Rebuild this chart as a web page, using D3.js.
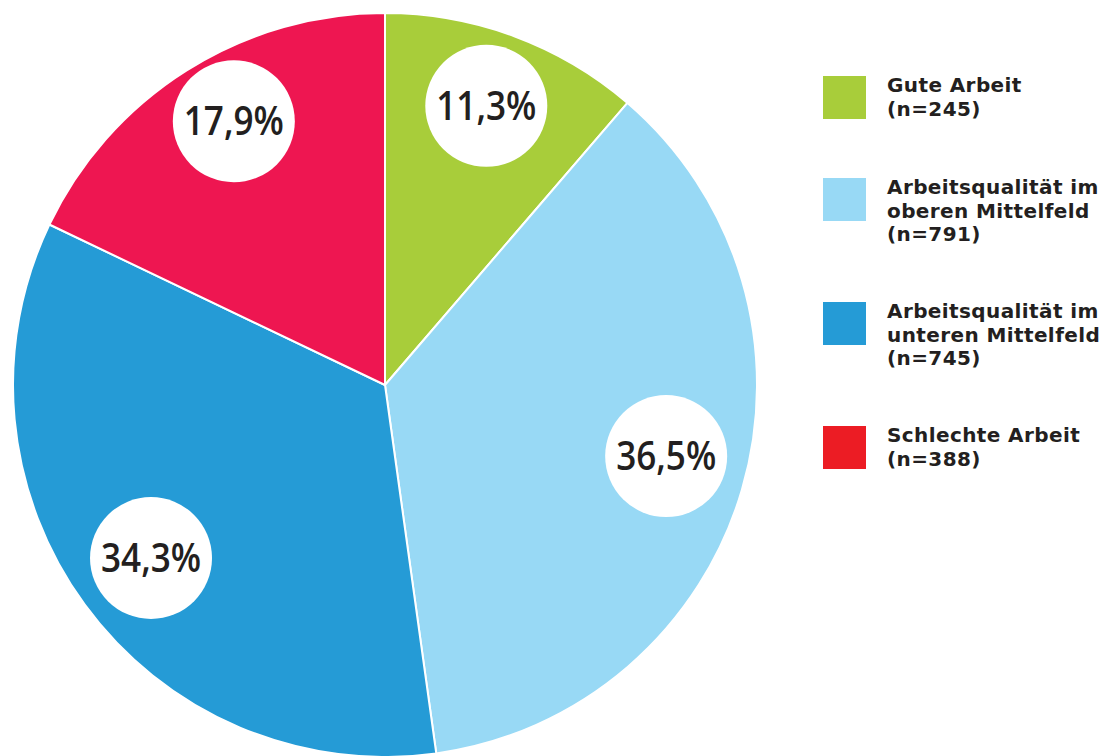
<!DOCTYPE html>
<html>
<head>
<meta charset="utf-8">
<script src="https://cdn.jsdelivr.net/npm/d3@7"></script>
<style>
  body { margin: 0; background: #fff; }
  svg { display: block; }
</style>
</head>
<body>
<div id="chart"></div>
<script>
// data
const categories = ["Gute Arbeit", "Arbeitsqualität im oberen Mittelfeld", "Arbeitsqualität im unteren Mittelfeld", "Schlechte Arbeit"];
const shares = [11.3, 36.5, 34.3, 17.9];
const counts = [245, 791, 745, 388];
const legendLines = [
  ["Gute Arbeit", "(n=245)"],
  ["Arbeitsqualität im", "oberen Mittelfeld", "(n=791)"],
  ["Arbeitsqualität im", "unteren Mittelfeld", "(n=745)"],
  ["Schlechte Arbeit", "(n=388)"]
];
const sliceColors = ["#a8cd3a", "#98d9f5", "#259bd6", "#ee1651"];
const legendColors = ["#a8cd3a", "#98d9f5", "#259bd6", "#ec1c24"];

const width = 1110, height = 756;
const cx = 385, cy = 385, radius = 372;
// bubble placement: distance from centre, and small angle nudge (degrees)
const bubbleRadius = [297, 290, 291, 304];
const bubbleNudge = [-0.4, -2.2, -0.3, 2.4];

const svg = d3.select("#chart").append("svg")
  .attr("width", width)
  .attr("height", height);

const pieData = d3.pie().sort(null).value(d => d)(shares);

const arc = d3.arc().innerRadius(0).outerRadius(radius);

const g = svg.append("g").attr("transform", `translate(${cx},${cy})`);

// slices
g.selectAll(".slice")
  .data(pieData)
  .enter()
  .append("path")
  .attr("class", "slice")
  .attr("d", arc)
  .attr("fill", (d, i) => sliceColors[i])
  .attr("stroke", "#fff")
  .attr("stroke-width", 2)
  .attr("stroke-linejoin", "round");

// label bubbles
const labels = g.selectAll(".lbl")
  .data(pieData)
  .enter()
  .append("g")
  .attr("class", "lbl")
  .attr("transform", (d, i) => {
    const a = (d.startAngle + d.endAngle) / 2 + bubbleNudge[i] * Math.PI / 180;
    const r = bubbleRadius[i];
    return `translate(${r * Math.sin(a)},${-r * Math.cos(a)})`;
  });

labels.append("circle")
  .attr("r", 61)
  .attr("fill", "#fff");

labels.append("text")
  .attr("text-anchor", "middle")
  .attr("dy", "0.36em")
  .attr("transform", "scale(0.9,1)")
  .style("font-family", "'Open Sans', sans-serif")
  .style("font-weight", 600)
  .style("font-size", "39px")
  .style("fill", "#231f20")
  .text(d => d3.format(".1f")(d.data).replace(".", ",") + "%");

// LEGEND
const legendTop = [76, 178, 302, 426];
const legend = svg.selectAll(".legend")
  .data(legendLines)
  .enter()
  .append("g")
  .attr("class", "legend")
  .attr("transform", (d, i) => `translate(823,${legendTop[i]})`);

legend.append("rect")
  .attr("width", 43)
  .attr("height", 43)
  .attr("fill", (d, i) => legendColors[i]);

legend.append("text")
  .style("font-family", "'DejaVu Sans', sans-serif")
  .style("font-weight", 700)
  .style("font-size", "20px")
  .style("letter-spacing", "0.4px")
  .style("fill", "#231f20")
  .selectAll("tspan")
  .data(d => d)
  .enter()
  .append("tspan")
  .attr("x", 64)
  .attr("y", (d, i) => 16 + i * 23.5)
  .text(d => d);
</script>
</body>
</html>
